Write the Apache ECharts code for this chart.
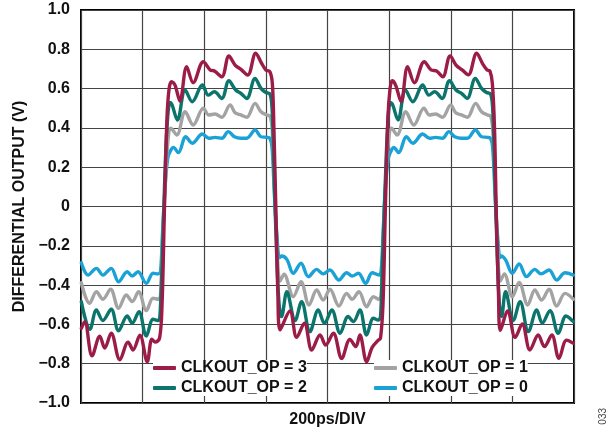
<!DOCTYPE html>
<html>
<head>
<meta charset="utf-8">
<script src="https://cdn.jsdelivr.net/npm/echarts@6/dist/echarts.min.js"></script>
<style>
html,body{margin:0;padding:0;background:#fff;}
#chart{width:614px;height:433px;}
</style>
</head>
<body>
<div id="chart"></div>
<script>
// time in ps (200 ps/div), value in volts
const seriesNames = ['CLKOUT_OP = 3', 'CLKOUT_OP = 2', 'CLKOUT_OP = 1', 'CLKOUT_OP = 0'];
const yTicks = [-1, -0.8, -0.6, -0.4, -0.2, 0, 0.2, 0.4, 0.6, 0.8, 1];

const op3 = [
  [1,-0.62],[12,-0.586],[36,-0.76],[61,-0.66],[77,-0.72],[98,-0.645],[126,-0.78],[153,-0.69],[169,-0.73],[191,-0.655],[215,-0.79],[230,-0.675],[241,-0.69],[255,-0.67],
  [263,-0.5],[271,0],[279,0.45],[286,0.6],[294,0.635],
  [305,0.618],[321,0.537],[343,0.711],[364,0.63],[397,0.737],[419,0.695],[433,0.69],[457,0.66],[480,0.766],[500,0.72],[519,0.698],[541,0.669],[567,0.78],[586,0.729],[600,0.695],[613,0.686],[621,0.627],
  [626,0.4],[633,-0.05],[639,-0.45],[646,-0.628],
  [678,-0.532],[700,-0.666],[725,-0.594],[749,-0.73],[776,-0.654],[794,-0.705],[819,-0.645],[846,-0.773],[873,-0.676],[892,-0.713],[905,-0.654],[927,-0.79],[945,-0.717],[965,-0.68],[972,-0.67],
  [980,-0.5],[988,0],[996,0.45],[1003,0.6],[1010,0.64],
  [1021,0.618],[1039,0.533],[1060,0.711],[1082,0.63],[1114,0.737],[1136,0.695],[1154,0.69],[1174,0.66],[1198,0.766],[1217,0.72],[1237,0.695],[1257,0.67],[1284,0.78],[1304,0.725],[1318,0.695],[1327,0.69],[1335,0.627],
  [1342,0.4],[1348,-0.05],[1355,-0.45],[1361,-0.63],
  [1385,-0.532],[1409,-0.666],[1432,-0.598],[1457,-0.73],[1484,-0.654],[1504,-0.713],[1528,-0.654],[1551,-0.773],[1576,-0.68],[1598,-0.696]
];

const op2 = [
  [1,-0.484],[29,-0.625],[50,-0.527],[71,-0.58],[98,-0.523],[122,-0.632],[150,-0.557],[166,-0.594],[188,-0.535],[212,-0.659],[234,-0.574],[250,-0.58],[256,-0.56],
  [263,-0.3],[271,0.1],[279,0.4],[289,0.53],
  [295,0.52],[313,0.44],[338,0.593],[361,0.533],[394,0.618],[413,0.567],[433,0.584],[457,0.55],[480,0.64],[502,0.593],[519,0.576],[538,0.55],[565,0.652],[584,0.601],[600,0.58],[613,0.573],
  [620,0.5],[626,0.2],[634,-0.2],[643,-0.5],[651,-0.56],
  [668,-0.434],[695,-0.58],[716,-0.484],[743,-0.637],[770,-0.527],[790,-0.594],[814,-0.527],[841,-0.645],[867,-0.56],[884,-0.586],[905,-0.527],[927,-0.654],[949,-0.569],[965,-0.578],[972,-0.56],
  [978,-0.3],[987,0.1],[995,0.4],[1004,0.53],
  [1011,0.52],[1029,0.44],[1053,0.593],[1077,0.533],[1109,0.618],[1129,0.567],[1148,0.584],[1172,0.55],[1196,0.64],[1217,0.593],[1235,0.576],[1253,0.55],[1280,0.652],[1300,0.601],[1316,0.58],[1329,0.573],
  [1336,0.5],[1342,0.2],[1350,-0.2],[1358,-0.5],[1365,-0.56],
  [1378,-0.434],[1403,-0.58],[1425,-0.484],[1452,-0.637],[1479,-0.527],[1497,-0.594],[1522,-0.53],[1549,-0.645],[1574,-0.557],[1598,-0.586]
];

const op1 = [
  [1,-0.388],[28,-0.493],[50,-0.434],[71,-0.472],[96,-0.421],[122,-0.518],[147,-0.45],[166,-0.484],[187,-0.434],[212,-0.53],[234,-0.467],[252,-0.472],[258,-0.45],
  [264,-0.2],[273,0.1],[282,0.33],[292,0.398],
  [311,0.364],[338,0.482],[364,0.415],[397,0.5],[415,0.466],[435,0.471],[457,0.454],[484,0.517],[500,0.477],[519,0.466],[538,0.454],[565,0.525],[584,0.482],[603,0.466],[613,0.46],
  [620,0.4],[628,0.1],[636,-0.2],[646,-0.38],[659,-0.345],
  [689,-0.459],[714,-0.383],[740,-0.501],[765,-0.425],[786,-0.476],[808,-0.421],[837,-0.506],[862,-0.442],[880,-0.472],[902,-0.434],[927,-0.51],[949,-0.459],[967,-0.472],[974,-0.45],
  [980,-0.2],[988,0.1],[998,0.33],[1008,0.398],
  [1026,0.364],[1054,0.482],[1080,0.415],[1113,0.5],[1131,0.466],[1151,0.471],[1173,0.454],[1200,0.517],[1216,0.477],[1235,0.466],[1254,0.454],[1281,0.525],[1300,0.482],[1319,0.466],[1329,0.46],
  [1336,0.4],[1344,0.1],[1352,-0.2],[1361,-0.38],[1374,-0.343],
  [1400,-0.459],[1422,-0.386],[1450,-0.501],[1473,-0.425],[1495,-0.476],[1519,-0.421],[1544,-0.506],[1571,-0.442],[1598,-0.472]
];

const op0 = [
  [1,-0.286],[23,-0.349],[50,-0.315],[71,-0.349],[98,-0.315],[122,-0.383],[150,-0.332],[166,-0.354],[185,-0.332],[212,-0.391],[234,-0.34],[250,-0.343],[258,-0.33],
  [264,-0.15],[273,0.1],[282,0.25],[292,0.288],
  [300,0.301],[316,0.274],[340,0.355],[361,0.322],[394,0.369],[415,0.347],[435,0.352],[457,0.347],[478,0.381],[498,0.355],[519,0.347],[538,0.347],[565,0.389],[584,0.355],[603,0.352],[613,0.347],
  [620,0.3],[628,0.05],[636,-0.15],[644,-0.26],[651,-0.252],
  [668,-0.269],[689,-0.34],[714,-0.289],[738,-0.357],[765,-0.32],[786,-0.343],[808,-0.323],[837,-0.374],[862,-0.337],[880,-0.354],[900,-0.34],[924,-0.391],[945,-0.337],[967,-0.349],[974,-0.33],
  [980,-0.15],[988,0.1],[998,0.25],[1008,0.288],
  [1015,0.301],[1031,0.274],[1056,0.355],[1077,0.322],[1109,0.369],[1131,0.347],[1151,0.352],[1173,0.347],[1194,0.381],[1213,0.355],[1235,0.347],[1254,0.347],[1280,0.389],[1300,0.355],[1319,0.352],[1329,0.347],
  [1336,0.3],[1344,0.05],[1352,-0.15],[1360,-0.26],[1364,-0.252],
  [1378,-0.272],[1400,-0.34],[1422,-0.293],[1446,-0.357],[1473,-0.32],[1493,-0.343],[1519,-0.323],[1544,-0.374],[1571,-0.337],[1598,-0.349]
];

const colors = {op3:'#9C1C48', op2:'#0B746C', op1:'#A3A3A3', op0:'#1AA2D6'};
const FONT = 'Liberation Sans, Arial, sans-serif';

function mkSeries(name, data, color, z){
  return {
    name: name, type: 'line', data: data, smooth: 0.35, showSymbol: false, symbol: 'none',
    z: z, animation: false,
    lineStyle: {color: color, width: 3.4, cap: 'round', join: 'round'},
    itemStyle: {color: color}
  };
}

const chart = echarts.init(document.getElementById('chart'), null, {renderer: 'canvas'});
const legendCommon = {
  orient: 'vertical', icon: 'roundRect', itemWidth: 23, itemHeight: 4, itemGap: 4, padding: 0,
  backgroundColor: '#fff',
  textStyle: {fontFamily: FONT, fontWeight: 'bold', fontSize: 16, color: '#111', lineHeight: 16},
  selectedMode: false
};
chart.setOption({
  animation: false,
  backgroundColor: '#fff',
  grid: {left: 81, right: 40, top: 10, bottom: 30, show: true, borderColor: '#000', borderWidth: 2, backgroundColor: 'transparent'},
  legend: [
    Object.assign({}, legendCommon, {left: 153, top: 360, data: [seriesNames[0], seriesNames[1]]}),
    Object.assign({}, legendCommon, {left: 374, top: 360, data: [seriesNames[2], seriesNames[3]]})
  ],
  xAxis: {
    type: 'value', min: 0, max: 1600, interval: 200,
    name: '200ps/DIV', nameLocation: 'middle', nameGap: 9,
    nameTextStyle: {fontFamily: FONT, fontWeight: 'bold', fontSize: 16, color: '#111'},
    axisLine: {show: false}, axisTick: {show: false}, axisLabel: {show: false},
    splitLine: {show: true, lineStyle: {color: '#444', width: 1.2}}
  },
  yAxis: {
    type: 'value', min: yTicks[0], max: yTicks[yTicks.length-1], interval: 0.2,
    name: 'DIFFERENTIAL OUTPUT (V)', nameLocation: 'middle', nameGap: 52, nameRotate: 90,
    nameTextStyle: {fontFamily: FONT, fontWeight: 'bold', fontSize: 16, color: '#111'},
    axisLine: {show: false}, axisTick: {show: false},
    axisLabel: {
      margin: 11, fontFamily: FONT, fontWeight: 'bold', fontSize: 16, color: '#111',
      formatter: function(v){ if (Math.abs(v) < 1e-9) return '0'; return (v < 0 ? '\u2212' : '') + Math.abs(v).toFixed(1); }
    },
    splitLine: {show: true, lineStyle: {color: '#444', width: 1.2}}
  },
  graphic: [{
    type: 'text', left: 598, top: 408, rotation: Math.PI/2,
    style: {text: '033', fontFamily: FONT, fontSize: 10, fill: '#444'}
  }],
  series: [
    mkSeries(seriesNames[3], op0, colors.op0, 2),
    mkSeries(seriesNames[2], op1, colors.op1, 3),
    mkSeries(seriesNames[1], op2, colors.op2, 4),
    mkSeries(seriesNames[0], op3, colors.op3, 5)
  ]
});
</script>
</body>
</html>
